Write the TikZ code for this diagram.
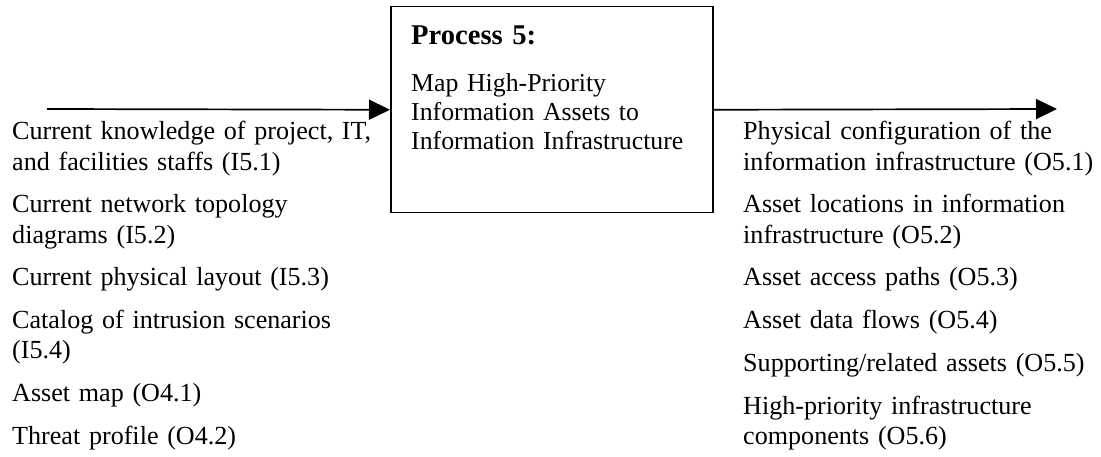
\documentclass[tikz,border=0pt]{standalone}
\usepackage{fontspec}
\setmainfont{Liberation Serif}
\usetikzlibrary{arrows.meta,calc}
\frenchspacing

\begin{document}
\begin{tikzpicture}[x=1pt, y=-1pt,
		procbox/.style = {draw, line width=1.5pt, minimum width=322pt, minimum height=206pt, inner sep=0pt},
		flow/.style = {line width=1.7pt, -{Triangle[length=21pt, width=20pt]}},
		item/.style = {anchor=base west, inner sep=0pt, text width=400pt, align=left, font=\fontsize{26.1}{30.3}\selectfont}]
		\useasboundingbox (0,0) rectangle (1101,457);
		\node[procbox, anchor=north west] (P) at (390,6) {};
		\node[item, font=\bfseries\fontsize{28.6}{33}\selectfont] (Ptitle) at ($(P.north west) + (21,39)$) {Process 5:};
		\node[item, font=\fontsize{25.8}{29.2}\selectfont] (Ptext) at ($(P.north west) + (21,85.5)$) {Map High-Priority\\Information Assets to\\Information Infrastructure};
		\coordinate (in) at (47,109);
		\coordinate (out) at (1057,109);
		\draw[flow] (in) -- (P.west);
		\draw[flow] (P.east) -- (out);
		\node[item] (I1) at (12,140) {Current knowledge of project, IT,\\and facilities staffs (I5.1)};
		\node[item] (I2) at (12,212.8) {Current network topology\\diagrams (I5.2)};
		\node[item] (I3) at (12,285.6) {Current physical layout (I5.3)};
		\node[item] (I4) at (12,328.4) {Catalog of intrusion scenarios\\(I5.4)};
		\node[item] (I5) at (12,401.5) {Asset map (O4.1)};
		\node[item] (I6) at (12,444.3) {Threat profile (O4.2)};
		\node[item] (O1) at (743,140) {Physical configuration of the\\information infrastructure (O5.1)};
		\node[item] (O2) at (743,212.8) {Asset locations in information\\infrastructure (O5.2)};
		\node[item] (O3) at (743,285.6) {Asset access paths (O5.3)};
		\node[item] (O4) at (743,328.4) {Asset data flows (O5.4)};
		\node[item] (O5) at (743,371.2) {Supporting/related assets (O5.5)};
		\node[item] (O6) at (743,414) {High-priority infrastructure\\components (O5.6)};
	\end{tikzpicture}
\end{document}
